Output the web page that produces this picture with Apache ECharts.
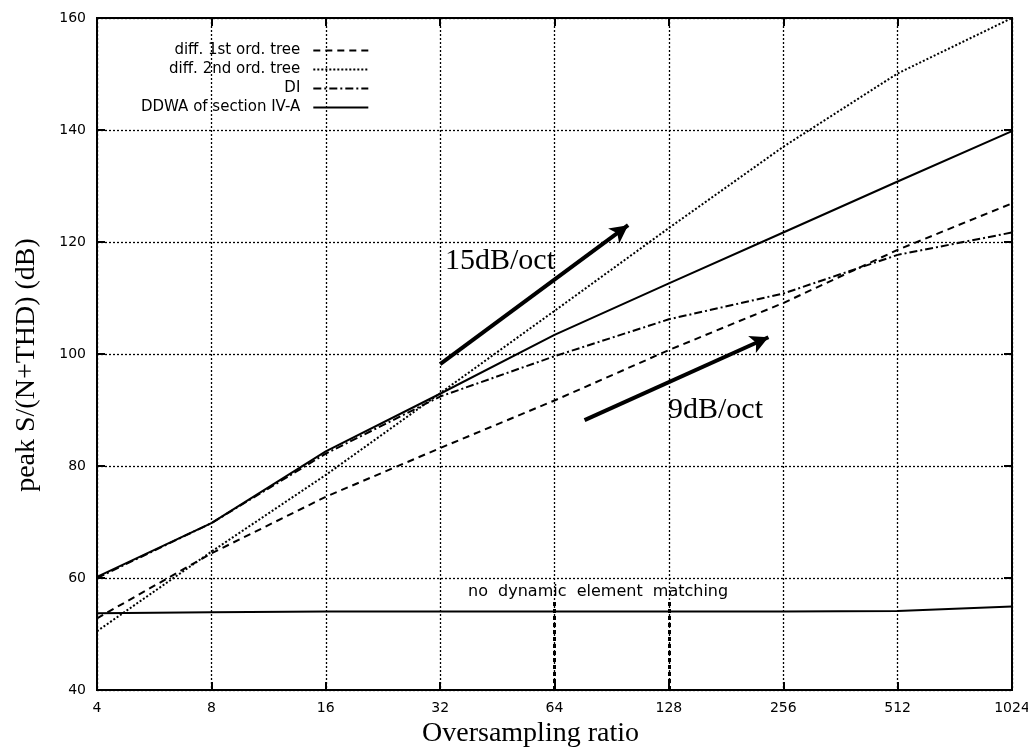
<!DOCTYPE html>
<html>
<head>
<meta charset="utf-8">
<script src="https://cdn.jsdelivr.net/npm/echarts@6/dist/echarts.min.js"></script>
<style>
  html, body { margin: 0; padding: 0; background: #fff; }
  #chart { width: 1028px; height: 751px; }
</style>
</head>
<body>
<div id="chart"></div>
<script>
// oversampling ratios (log2 axis)
var ratios = [4, 8, 16, 32, 64, 128, 256, 512, 1024];
// peak S/(N+THD) in dB
var diff1st = [52.8, 64.4, 74.5, 83.2, 91.7, 100.7, 109.1, 118.6, 126.9];
var diff2nd = [50.5, 64.7, 78.4, 93.0, 107.7, 122.5, 137.0, 150.1, 160.0];
var di      = [60.0, 69.8, 82.2, 92.4, 99.6, 106.2, 110.8, 117.7, 121.7];
var ddwa    = [60.2, 69.8, 82.6, 92.9, 103.4, 112.6, 121.7, 130.8, 139.8];
var noDem   = [53.7, 53.9, 54.0, 54.0, 54.0, 54.0, 54.0, 54.1, 54.9];
var yTicks  = [40, 60, 80, 100, 120, 140, 160];
// slope arrows [[x0,y0],[x1,y1]]
var arrow15 = [[32, 98.2], [100, 123.0]];
var arrow9  = [[76.8, 88.2], [234, 103.0]];

var sans = 'DejaVu Sans';
var serif = 'Liberation Serif';

function pairs(ys){
  var out = [];
  for (var i = 0; i < ratios.length; i++) out.push([ratios[i], ys[i]]);
  return out;
}

var chart = echarts.init(document.getElementById('chart'));

function lineSeries(name, ys, type){
  return {
    name: name,
    type: 'line',
    data: pairs(ys),
    symbol: 'none',
    silent: true,
    itemStyle: { color: '#000' },
    lineStyle: { color: '#000', width: 2, type: type },
    z: 3
  };
}

var series = [
  lineSeries('diff. 1st ord. tree', diff1st, [7, 5]),
  lineSeries('diff. 2nd ord. tree', diff2nd, [2, 2]),
  lineSeries('DI', di, [8, 3, 2, 3]),
  lineSeries('DDWA of section IV-A', ddwa, 'solid'),
  {
    name: 'noDem',
    type: 'line',
    data: pairs(noDem),
    symbol: 'none',
    silent: true,
    lineStyle: { color: '#000', width: 2 },
    markLine: {
      silent: true,
      symbol: ['none', 'none'],
      label: { show: false },
      lineStyle: { color: '#000', width: 3, type: [4, 3] },
      data: [
        [{ coord: [64, 40] }, { coord: [64, 55.8] }],
        [{ coord: [128, 40] }, { coord: [128, 55.8] }]
      ]
    }
  },
  {
    name: 'arrows',
    type: 'line',
    data: [],
    silent: true,
    markLine: {
      silent: true,
      symbol: ['none', 'arrow'],
      symbolSize: [14, 18],
      label: { show: false },
      lineStyle: { color: '#000', width: 4, type: 'solid' },
      itemStyle: { color: '#000' },
      data: [
        [{ coord: arrow15[0] }, { coord: arrow15[1] }],
        [{ coord: arrow9[0] }, { coord: arrow9[1] }]
      ]
    }
  }
];

var option = {
  backgroundColor: '#fff',
  animation: false,
  grid: {
    left: 97, right: 16, top: 18, bottom: 61,
    outerBoundsMode: 'none',
    show: true, borderColor: '#000', borderWidth: 2
  },
  legend: {
    orient: 'vertical',
    align: 'right',
    left: 136,
    top: 38,
    itemWidth: 55,
    itemHeight: 12,
    itemGap: 4,
    selectedMode: false,
    itemStyle: { opacity: 0 },
    data: ['diff. 1st ord. tree', 'diff. 2nd ord. tree', 'DI', 'DDWA of section IV-A'],
    textStyle: { fontFamily: sans, fontSize: 15, color: '#000', padding: [0, 8, 0, 0] }
  },
  xAxis: [{
    type: 'log',
    logBase: 2,
    min: 4,
    max: 1024,
    name: 'Oversampling ratio',
    nameLocation: 'middle',
    nameGap: 30,
    nameTextStyle: { fontFamily: serif, fontSize: 28, color: '#000', padding: [0, 48, 0, 0] },
    axisLine: { lineStyle: { color: '#000', width: 2 } },
    axisTick: { inside: true, length: 8, lineStyle: { color: '#000', width: 2 } },
    axisLabel: {
      fontFamily: sans, fontSize: 14, color: '#000', margin: 11,
      formatter: function (v) { return String(Math.round(v)); }
    },
    splitLine: { show: true, lineStyle: { color: '#000', width: 1.3, type: [2, 2] } },
    minorTick: { show: false }
  }, {
    type: 'log',
    logBase: 2,
    min: 4,
    max: 1024,
    position: 'top',
    axisLine: { lineStyle: { color: '#000', width: 2 } },
    axisTick: { inside: true, length: 8, lineStyle: { color: '#000', width: 2 } },
    axisLabel: { show: false },
    splitLine: { show: false }
  }],
  yAxis: [{
    type: 'value',
    min: yTicks[0],
    max: yTicks[yTicks.length - 1],
    interval: 20,
    name: 'peak S/(N+THD) (dB)',
    nameLocation: 'middle',
    nameGap: 56,
    nameTextStyle: { fontFamily: serif, fontSize: 28, color: '#000', padding: [0, 22, 0, 0] },
    axisLine: { lineStyle: { color: '#000', width: 2 } },
    axisTick: { inside: true, length: 8, lineStyle: { color: '#000', width: 2 } },
    axisLabel: { fontFamily: sans, fontSize: 14, color: '#000', margin: 11 },
    splitLine: { show: true, lineStyle: { color: '#000', width: 1.3, type: [2, 2] } }
  }, {
    type: 'value',
    min: yTicks[0],
    max: yTicks[yTicks.length - 1],
    interval: 20,
    position: 'right',
    axisLine: { lineStyle: { color: '#000', width: 2 } },
    axisTick: { inside: true, length: 8, lineStyle: { color: '#000', width: 2 } },
    axisLabel: { show: false },
    splitLine: { show: false }
  }],
  graphic: [
    { type: 'text', left: 445, top: 246, style: { text: '15dB/oct', font: '30px "Liberation Serif"', fill: '#000' } },
    { type: 'text', left: 668, top: 395, style: { text: '9dB/oct', font: '30px "Liberation Serif"', fill: '#000' } },
    { type: 'text', left: 468, top: 584, style: { text: 'no  dynamic  element  matching', font: '16px "DejaVu Sans"', fill: '#000' } }
  ],
  series: series
};

chart.setOption(option);
</script>
</body>
</html>
